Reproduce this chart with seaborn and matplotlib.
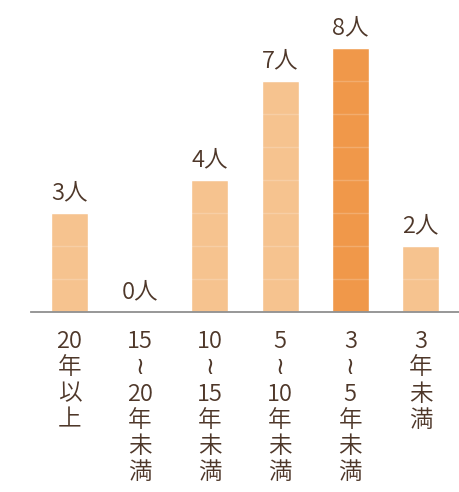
import matplotlib
matplotlib.use("Agg")
import matplotlib.pyplot as plt
import seaborn as sns
import pandas as pd

categories = ["20年以上", "15〜20年未満", "10〜15年未満", "5〜10年未満", "3〜5年未満", "3年未満"]
tick_labels = ["20\n年\n以\n上", "15\n≀\n20\n年\n未\n満", "10\n≀\n15\n年\n未\n満",
               "5\n≀\n10\n年\n未\n満", "3\n≀\n5\n年\n未\n満", "3\n年\n未\n満"]
values = [3, 0, 4, 7, 8, 2]

LIGHT = "#F6C38F"
DARK = "#F0984A"
TEXT = "#4E3729"
FONTS = ["Noto Sans CJK JP", "DejaVu Sans"]
WEIGHT = 330

sns.set_theme(style="white")
plt.rcParams["font.family"] = FONTS

df = pd.DataFrame({"cat": categories, "val": values})
vmax = max(values)
palette = {c: (DARK if v == vmax else LIGHT) for c, v in zip(categories, values)}

fig = plt.figure(figsize=(4.6, 4.92), dpi=100)
ax = fig.add_axes([31 / 460, 1 - 312 / 492, 429 / 460, 312 / 492])

sns.barplot(data=df, x="cat", y="val", hue="cat", palette=palette, legend=False,
            width=0.527, saturation=1, ax=ax, zorder=2)

ax.set_xlim(-0.548, 5.563)
ax.set_ylim(0, 9.45)

# faint unit lines across bars
ax.set_yticks(range(1, vmax + 1))
ax.yaxis.grid(True, color="white", alpha=0.2, linewidth=1)
ax.set_axisbelow(False)
for line in ax.get_ygridlines():
    line.set_zorder(3)
ax.tick_params(axis="y", left=False, labelleft=False)

for cont in ax.containers:
    ax.bar_label(cont, labels=[f"{int(b.get_height())}人" for b in cont],
                 padding=6, fontsize=17, color=TEXT, fontweight=WEIGHT, family=FONTS)

ax.set_xticks(range(len(categories)))
ax.set_xticklabels(tick_labels, fontsize=17, color=TEXT, linespacing=1.18,
                   va="top", fontweight=WEIGHT, family=FONTS)
ax.tick_params(axis="x", bottom=False, pad=7)

for s in ["top", "right", "left"]:
    ax.spines[s].set_visible(False)
ax.spines["bottom"].set_color("#8F8F8F")
ax.spines["bottom"].set_linewidth(1.3)
ax.set_xlabel("")
ax.set_ylabel("")

fig.savefig("out.png", dpi=100)
